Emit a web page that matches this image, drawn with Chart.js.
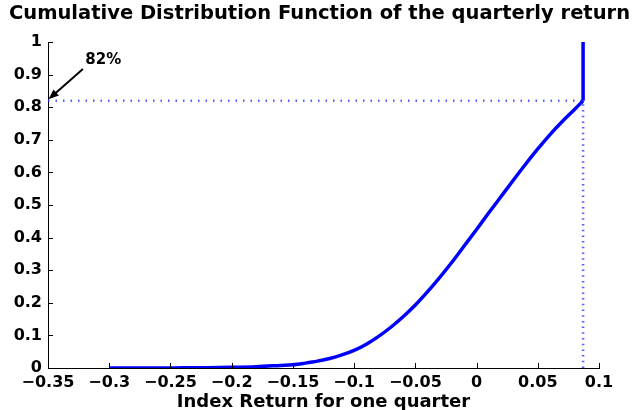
<!DOCTYPE html>
<html>
<head>
<meta charset="utf-8">
<script src="https://cdn.jsdelivr.net/npm/chart.js@4.4.1/dist/chart.umd.min.js"></script>
<style>
  html, body { margin: 0; padding: 0; background: #ffffff; }
  #wrap { width: 639px; height: 410px; }
</style>
</head>
<body>
<div id="wrap"><canvas id="cdf" width="639" height="410"></canvas></div>
<script>
// Quarterly index return (x) and its cumulative probability (y);
// the last two entries form the jump to 1 at the upper end of the support
const returnValues = [
  -0.30, -0.28, -0.26, -0.24, -0.22, -0.20, -0.18, -0.16, -0.15, -0.14,
  -0.13, -0.12, -0.11, -0.10, -0.09, -0.08, -0.07, -0.06, -0.05, -0.04,
  -0.03, -0.02, -0.01, 0.00, 0.01, 0.02, 0.03, 0.04, 0.05, 0.06,
  0.07, 0.08, 0.087, 0.087
];
const cdfValues = [
  0.000, 0.000, 0.000, 0.0005, 0.001, 0.002, 0.004, 0.008, 0.010, 0.015,
  0.021, 0.029, 0.040, 0.054, 0.073, 0.097, 0.125, 0.157, 0.193, 0.234,
  0.278, 0.325, 0.375, 0.425, 0.476, 0.526, 0.576, 0.625, 0.672, 0.716,
  0.756, 0.793, 0.820, 1.000
];

// Marked quantile: 82% of outcomes fall below this return
const markedReturn = 0.087;
const markedLevel = 0.82;
const markedLabel = '82%';

// Axis ticks
const xTickValues = [-0.35, -0.30, -0.25, -0.20, -0.15, -0.10, -0.05, 0.00, 0.05, 0.10];
const xTickLabels = ['\u22120.35', '\u22120.3', '\u22120.25', '\u22120.2', '\u22120.15', '\u22120.1', '\u22120.05', '0', '0.05', '0.1'];
const yTickValues = [0, 0.1, 0.2, 0.3, 0.4, 0.5, 0.6, 0.7, 0.8, 0.9, 1];
const yTickLabels = ['0', '0.1', '0.2', '0.3', '0.4', '0.5', '0.6', '0.7', '0.8', '0.9', '1'];

const X_MIN = -0.35, X_MAX = 0.1;
const FONT = "'DejaVu Sans', Verdana, sans-serif";

// Inward tick marks on the left and bottom axes
const innerTicks = {
  id: 'innerTicks',
  afterDatasetsDraw(chart) {
    const { ctx, chartArea } = chart;
    const xs = chart.scales.x, ys = chart.scales.y;
    ctx.save();
    ctx.strokeStyle = '#000';
    ctx.lineWidth = 1;
    ctx.beginPath();
    xTickValues.forEach(v => {
      const px = Math.round(xs.getPixelForValue(v)) + 0.5;
      ctx.moveTo(px, chartArea.bottom);
      ctx.lineTo(px, chartArea.bottom - 5);
    });
    yTickValues.forEach(v => {
      const py = Math.round(ys.getPixelForValue(v)) + 0.5;
      ctx.moveTo(chartArea.left, py);
      ctx.lineTo(chartArea.left + 5, py);
    });
    ctx.stroke();
    ctx.restore();
  }
};

// Arrow pointing at the marked level on the y axis, with its label
const levelArrow = {
  id: 'levelArrow',
  afterDraw(chart) {
    const { ctx } = chart;
    const xs = chart.scales.x, ys = chart.scales.y;
    const tipX = xs.getPixelForValue(X_MIN) + 0.5;
    const tipY = ys.getPixelForValue(markedLevel) - 1.5;
    const tailX = xs.getPixelForValue(-0.3215);
    const tailY = ys.getPixelForValue(0.917);
    const ang = Math.atan2(tipY - tailY, tipX - tailX);
    const head = 11, spread = 0.38;
    ctx.save();
    ctx.strokeStyle = '#000';
    ctx.fillStyle = '#000';
    ctx.lineWidth = 2;
    ctx.beginPath();
    ctx.moveTo(tailX, tailY);
    ctx.lineTo(tipX - Math.cos(ang) * head * 0.8, tipY - Math.sin(ang) * head * 0.8);
    ctx.stroke();
    ctx.beginPath();
    ctx.moveTo(tipX, tipY);
    ctx.lineTo(tipX - head * Math.cos(ang - spread), tipY - head * Math.sin(ang - spread));
    ctx.lineTo(tipX - head * Math.cos(ang + spread), tipY - head * Math.sin(ang + spread));
    ctx.closePath();
    ctx.fill();
    ctx.font = 'bold 15px ' + FONT;
    ctx.textAlign = 'left';
    ctx.textBaseline = 'middle';
    ctx.fillText(markedLabel, xs.getPixelForValue(-0.3195), ys.getPixelForValue(0.943));
    ctx.restore();
  }
};

const n = returnValues.length;
const curve = returnValues.slice(0, n - 1).map((x, i) => ({ x: x, y: cdfValues[i] }));
const jump = returnValues.slice(n - 2).map((x, i) => ({ x: x, y: cdfValues[n - 2 + i] }));

new Chart(document.getElementById('cdf'), {
  type: 'line',
  data: {
    datasets: [
      {
        label: 'CDF',
        data: curve,
        borderColor: '#0000ff',
        borderWidth: 3.5,
        pointRadius: 0,
        cubicInterpolationMode: 'monotone',
        order: 0
      },
      {
        label: 'jump',
        data: jump,
        borderColor: '#0000ff',
        borderWidth: 3.5,
        pointRadius: 0,
        order: 0
      },
      {
        label: 'level',
        data: [{ x: X_MIN, y: markedLevel }, { x: markedReturn, y: markedLevel }],
        borderColor: 'rgba(40,40,255,0.75)',
        borderWidth: 2.5,
        borderDash: [1.5, 6],
        pointRadius: 0,
        order: 1
      },
      {
        label: 'quantile',
        data: [{ x: markedReturn, y: 0 }, { x: markedReturn, y: markedLevel }],
        borderColor: 'rgba(40,40,255,0.75)',
        borderWidth: 2.5,
        borderDash: [1.5, 4.2],
        pointRadius: 0,
        order: 1
      }
    ]
  },
  options: {
    responsive: false,
    animation: false,
    events: [],
    layout: { padding: 0 },
    plugins: {
      legend: { display: false },
      tooltip: { enabled: false },
      title: {
        display: true,
        text: 'Cumulative Distribution Function of the quarterly return',
        color: '#000',
        font: { family: FONT, size: 19.5, weight: 'bold' },
        padding: { top: 2.3, bottom: 16.3 }
      }
    },
    scales: {
      x: {
        type: 'linear',
        min: X_MIN,
        max: X_MAX,
        afterBuildTicks: s => { s.ticks = xTickValues.map(v => ({ value: v })); },
        afterFit: s => { s.height = 42; },
        grid: { display: true, drawOnChartArea: false, drawTicks: false },
        border: { display: true, color: '#000', width: 1 },
        ticks: {
          color: '#000',
          font: { family: FONT, size: 16, weight: 'bold' },
          padding: 5,
          maxRotation: 0,
          autoSkip: false,
          callback: (v, i) => xTickLabels[i]
        },
        title: {
          display: true,
          text: 'Index Return for one quarter',
          color: '#000',
          font: { family: FONT, size: 18, weight: 'bold' },
          padding: { top: 0, bottom: -3 }
        }
      },
      y: {
        type: 'linear',
        min: 0,
        max: 1,
        afterBuildTicks: s => { s.ticks = yTickValues.map(v => ({ value: v })); },
        afterFit: s => { s.width = 48; },
        grid: { display: true, drawOnChartArea: false, drawTicks: false },
        border: { display: true, color: '#000', width: 1 },
        ticks: {
          color: '#000',
          font: { family: FONT, size: 16, weight: 'bold' },
          padding: 6,
          autoSkip: false,
          callback: (v, i) => yTickLabels[i]
        }
      },
      // empty right-hand margin beside the axes
      yRight: {
        type: 'linear',
        position: 'right',
        min: 0,
        max: 1,
        afterFit: s => { s.width = 40; },
        grid: { display: false },
        border: { display: false },
        ticks: { display: false }
      }
    }
  },
  plugins: [innerTicks, levelArrow]
});
</script>
</body>
</html>
